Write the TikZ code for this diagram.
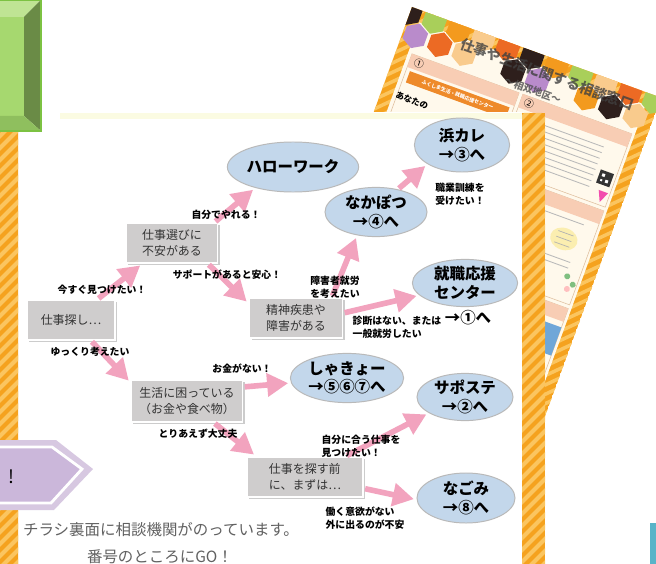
\documentclass[tikz,border=0pt]{standalone}
\usepackage{fontspec}
\setmainfont{Noto Sans CJK JP}
\usetikzlibrary{arrows.meta,shapes.geometric,shadows}
\definecolor{flyorange}{HTML}{F5A21E}
\definecolor{flystripe}{HTML}{FBC55F}
\definecolor{cream}{HTML}{FFF9EC}
\definecolor{peach}{HTML}{F8CDB4}
\definecolor{bannerorange}{HTML}{EE8A2A}
\definecolor{hexblack}{HTML}{2E1F1C}
\definecolor{hexpurple}{HTML}{B98BCB}
\definecolor{hexlime}{HTML}{A9CF5A}
\definecolor{hexorange}{HTML}{F39A1E}
\definecolor{hexpeach}{HTML}{F9CB8D}
\definecolor{hexred}{HTML}{EC6A24}
\definecolor{softyellow}{HTML}{FBEEB0}
\definecolor{photoblue}{HTML}{6FA7D8}
\definecolor{boxgrey}{HTML}{CFCDCD}
\definecolor{agencyblue}{HTML}{C3D7EB}
\definecolor{flowpink}{HTML}{F2A3BE}
\definecolor{topband}{HTML}{FBFBE2}
\definecolor{bevelface}{HTML}{A6D86F}
\definecolor{beveltop}{HTML}{BFE494}
\definecolor{bevelside}{HTML}{6A8B46}
\definecolor{bevelbottom}{HTML}{8FBF5E}
\definecolor{bevelline}{HTML}{7CC242}
\definecolor{lavender}{HTML}{D7C8E1}
\definecolor{lavenderdeep}{HTML}{CBB7DA}
\definecolor{tealbar}{HTML}{58B4C8}
\tikzset{
  choice/.style={rectangle, fill=boxgrey, draw=white, line width=1pt, minimum height=1cm,
                 align=center, font=\fontsize{8.5}{11}\selectfont, text=black!80,
                 drop shadow={shadow xshift=1.5pt, shadow yshift=-1.5pt, fill=gray!40, opacity=1}},
  agency/.style={ellipse, fill=agencyblue, draw=gray!55, line width=0.7pt, inner sep=0pt,
                 align=center, font=\bfseries\fontsize{11}{13}\selectfont},
  flow/.style={-{Triangle[length=15pt,width=16pt]}, line width=4pt, flowpink, shorten >=2pt, shorten <=1pt},
  note/.style={font=\bfseries\fontsize{7}{9}\selectfont, align=left, inner sep=0pt},
  tiny/.style={transform shape, inner sep=0pt},
}
\begin{document}
\begin{tikzpicture}[x=0.025cm, y=-0.025cm]
\useasboundingbox (0,0) rectangle (656,564);

% Flyer in the back
\begin{scope}[shift={(412,7)}, rotate=-20]
  \clip (0,0) rectangle (265,620);
  \fill[flyorange] (0,0) rectangle (265,620);
  \foreach \k in {0,...,75} \draw[flystripe, line width=2.5pt] (\k*12,0) -- ++(-700,700);
  \fill[cream] (12,12) rectangle (253,608);
  \foreach \u/\hc in {0/hexblack,26/hexlime,52/hexorange,78/hexpeach,104/hexred,130/hexblack,156/hexorange,182/hexlime,208/hexpeach,234/hexred,260/hexlime}
    \fill[\hc] (\u,6) +(30:13) -- +(90:13) -- +(150:13) -- +(210:13) -- +(270:13) -- +(330:13) -- cycle;
  \foreach \u/\hc in {13/hexpurple,39/hexred,65/hexpeach,117/hexblack,143/hexpurple,195/hexorange,221/hexblack,247/hexpeach}
    \fill[\hc] (\u,26) +(30:13) -- +(90:13) -- +(150:13) -- +(210:13) -- +(270:13) -- +(330:13) -- cycle;
  \node[tiny, font=\bfseries\fontsize{10}{12}\selectfont, text=black!75, opacity=.8] (flytitle) at (150,17) {仕事や生活に関する相談窓口};
  \node[tiny, font=\bfseries\fontsize{7}{8}\selectfont, text=black!70, opacity=.8] (flyarea) at (142,37) {～相双地区～};
  % panel 1
  \draw[brown!50, fill=cream] (16,44) rectangle (130,612);
  \fill[peach] (16,44) rectangle (130,58);
  \node[tiny, font=\fontsize{7}{8}\selectfont] (flyone) at (26,51) {①};
  \fill[bannerorange] (20,61) rectangle (126,73);
  \node[tiny, text=white, font=\bfseries\fontsize{3.6}{4}\selectfont] (flyonename) at (73,67) {ふくしま生活・就職応援センター};
  \node[tiny, font=\bfseries\fontsize{6}{7}\selectfont] (flyonecatch) at (32,88) {あなたの};
  % panel 2
  \draw[brown!50, fill=cream] (134,44) rectangle (250,122);
  \fill[peach] (134,44) rectangle (250,58);
  \node[tiny, font=\fontsize{7}{8}\selectfont] (flytwo) at (143,51) {②};
  \foreach \v in {66,72,...,110} \draw[gray!55, line width=0.6pt] (138,\v) -- (228,\v);
  \fill[black!80] (233,88) rectangle (247,102);
  \fill[white] (236,91) rectangle (239,94) (241,96) rectangle (244,99) (236,97) rectangle (238,99);
  \fill[magenta!70] (238,108) -- (248,108) -- (243,119) -- cycle;
  % panel 3
  \draw[brown!50, fill=cream] (134,126) rectangle (250,226);
  \fill[peach] (134,126) rectangle (250,140);
  \foreach \v in {146,186,192} \draw[gray!55, line width=0.6pt] (138,\v) -- (236,\v);
  \fill[softyellow] (222,166) ellipse (14 and 11);
  \foreach \v in {160,166,172} \draw[gray!60, line width=0.5pt] (214,\v) -- (230,\v);
  \fill[green!50!black!50] (238,200) circle (3) (246,206) circle (3);
  \fill[pink] (242,212) circle (3);
  % panel 4
  \draw[brown!50, fill=cream] (134,230) rectangle (250,330);
  \fill[peach] (134,230) rectangle (250,244);
  \fill[photoblue] (196,250) rectangle (250,280);
\end{scope}

% Flyer in front
\fill[white] (18,112) rectangle (522,570);
\fill[topband] (60,113) rectangle (522,119);
\begin{scope}
  \clip (-5,113) rectangle (18,570) (522,113) rectangle (545,570);
  \fill[flyorange] (-5,113) rectangle (545,570);
  \foreach \k in {0,...,85} \draw[flystripe, line width=3pt] (\k*12-470,570) -- ++(470,-470);
\end{scope}

% Green block and purple arrow
\fill[bevelface] (-5,17) rectangle (24,116);
\fill[beveltop] (-5,0) -- (41,0) -- (24,17) -- (-5,17) -- cycle;
\fill[bevelside] (41,0) -- (41,131) -- (24,116) -- (24,17) -- cycle;
\fill[bevelbottom] (-5,131) -- (41,131) -- (24,116) -- (-5,116) -- cycle;
\draw[bevelline, line width=1.5pt] (-5,0) rectangle (41,131);
\fill[lavender] (-5,440) -- (56,440) -- (93,469) -- (54,510) -- (-5,510) -- cycle;
\draw[white, line width=2pt, fill=lavenderdeep] (-5,447) -- (52,447) -- (82,469) -- (51,503) -- (-5,503);
\node[font=\fontsize{13}{15}\selectfont] (bang) at (11,477) {!};
\fill[tealbar] (650,523) rectangle (660,570);

% Situations
\node[choice, minimum width=2.2cm] (search) at (71,320) {仕事探し…};
\node[choice, minimum width=2.28cm] (worry) at (172,243) {仕事選びに\\不安がある};
\node[choice, minimum width=2.33cm] (illness) at (296,318) {精神疾患や\\障害がある};
\node[choice, minimum width=2.78cm, minimum height=1.05cm] (life) at (187,401) {生活に困っている\\（お金や食べ物）};
\node[choice, minimum width=2.9cm, align=left] (before) at (305,477) {仕事を探す前\\に、まずは…};

% Agencies
\node[agency, minimum width=2.5cm, minimum height=1.25cm] (hellowork) at (293,167) {ハローワーク};
\node[agency, minimum width=2.38cm, minimum height=1.35cm] (hamacare) at (462,145) {浜カレ\\→③へ};
\node[agency, minimum width=2.55cm, minimum height=1.23cm] (nakapotsu) at (376,212) {なかぽつ\\→④へ};
\node[agency, minimum width=2.63cm, minimum height=1.18cm] (shushoku) at (465,283) {就職応援\\センター};
\node[font=\bfseries\fontsize{11}{13}\selectfont, inner sep=0pt] (shushokuref) at (468,318) {→①へ};
\node[agency, minimum width=2.83cm, minimum height=1.23cm] (shakyo) at (347,378) {しゃきょー\\→⑤⑥⑦へ};
\node[agency, minimum width=2.4cm, minimum height=1.18cm] (saposute) at (465,397) {サポステ\\→②へ};
\node[agency, minimum width=2.45cm, minimum height=1.25cm] (nagomi) at (466,498) {なごみ\\→⑧へ};

% Arrows
\draw[flow] (search.38) -- (worry.215);
\draw[flow] (search.-46) -- (life.162);
\draw[flow] (worry.26) -- (hellowork.209);
\draw[flow] (worry.-30) -- (illness.163);
\draw[flow] (illness.30) -- (nakapotsu.231);
\draw[flow] (illness.6) -- (shushoku.195);
\draw[flow] (nakapotsu.46) -- (hamacare.209);
\draw[flow] (life.14) -- (shakyo.185);
\draw[flow] (life.-39) -- (before.157);
\draw[flow] (before.27) -- (saposute.204);
\draw[flow] (before.-11) -- (nagomi.182);

% Arrow labels
\node[note] (now) at (102,290) {今すぐ見つけたい！};
\node[note] (slow) at (90,352) {ゆっくり考えたい};
\node[note] (self) at (226,215) {自分でやれる！};
\node[note] (support) at (227,275) {サポートがあると安心！};
\node[note] (disab) at (335,287) {障害者就労\\を考えたい};
\node[note] (train) at (460,194) {職業訓練を\\受けたい！};
\node[note] (diag) at (397,327) {診断はない、または\\一般就労したい};
\node[note] (money) at (242,369) {お金がない！};
\node[note] (okay) at (198,434) {とりあえず大丈夫};
\node[note] (fit) at (361,446) {自分に合う仕事を\\見つけたい！};
\node[note] (fear) at (365,518) {働く意欲がない\\外に出るのが不安};

% Footer
\node[font=\fontsize{11}{13}\selectfont, text=black!62] (backnote) at (161,530) {チラシ裏面に相談機関がのっています。};
\node[font=\fontsize{11}{13}\selectfont, text=black!62] (gonote) at (160,557) {番号のところにGO！};

\end{tikzpicture}
\end{document}
